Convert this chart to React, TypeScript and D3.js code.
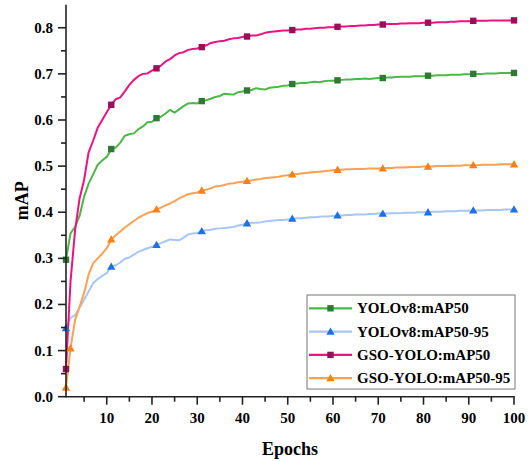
import React from 'react';
import * as d3 from 'd3';

// epochs 1..100
const epochs = d3.range(1, 101);

const yoloMap50 = [
  0.297, 0.354, 0.368, 0.392, 0.434, 0.462, 0.482, 0.503, 0.512, 0.520,
  0.537, 0.540, 0.551, 0.566, 0.569, 0.571, 0.580, 0.586, 0.595, 0.596,
  0.604, 0.607, 0.614, 0.622, 0.616, 0.623, 0.630, 0.636, 0.637, 0.636,
  0.641, 0.643, 0.646, 0.650, 0.652, 0.657, 0.656, 0.655, 0.660, 0.662,
  0.664, 0.665, 0.669, 0.667, 0.666, 0.670, 0.671, 0.672, 0.674, 0.675,
  0.678, 0.679, 0.680, 0.680, 0.682, 0.683, 0.682, 0.684, 0.685, 0.685,
  0.686, 0.687, 0.688, 0.688, 0.689, 0.689, 0.690, 0.689, 0.690, 0.691,
  0.691, 0.692, 0.692, 0.693, 0.694, 0.694, 0.694, 0.695, 0.695, 0.695,
  0.696, 0.696, 0.697, 0.697, 0.697, 0.698, 0.698, 0.698, 0.699, 0.699,
  0.700, 0.700, 0.700, 0.701, 0.701, 0.701, 0.702, 0.702, 0.702, 0.702,
];

const yoloMap5095 = [
  0.149, 0.171, 0.177, 0.193, 0.210, 0.228, 0.246, 0.255, 0.262, 0.268,
  0.282, 0.285, 0.291, 0.299, 0.302, 0.308, 0.314, 0.318, 0.322, 0.325,
  0.329, 0.333, 0.337, 0.341, 0.340, 0.339, 0.345, 0.352, 0.354, 0.355,
  0.359, 0.361, 0.362, 0.364, 0.365, 0.366, 0.367, 0.368, 0.371, 0.373,
  0.376, 0.377, 0.377, 0.378, 0.380, 0.381, 0.382, 0.383, 0.383, 0.384,
  0.386, 0.387, 0.387, 0.388, 0.389, 0.389, 0.390, 0.391, 0.391, 0.392,
  0.393, 0.393, 0.394, 0.394, 0.395, 0.395, 0.395, 0.396, 0.396, 0.397,
  0.397, 0.397, 0.398, 0.398, 0.398, 0.399, 0.399, 0.399, 0.400, 0.400,
  0.400, 0.401, 0.401, 0.401, 0.402, 0.402, 0.402, 0.403, 0.403, 0.403,
  0.404, 0.404, 0.404, 0.405, 0.405, 0.405, 0.405, 0.406, 0.406, 0.406,
];

const gsoMap50 = [
  0.060, 0.250, 0.360, 0.430, 0.470, 0.530, 0.555, 0.583, 0.600, 0.617,
  0.633, 0.645, 0.649, 0.662, 0.676, 0.687, 0.695, 0.700, 0.701, 0.707,
  0.712, 0.718, 0.727, 0.732, 0.740, 0.745, 0.747, 0.752, 0.754, 0.755,
  0.758, 0.762, 0.767, 0.769, 0.771, 0.772, 0.775, 0.777, 0.778, 0.780,
  0.781, 0.783, 0.783, 0.786, 0.789, 0.791, 0.792, 0.793, 0.794, 0.794,
  0.795, 0.796, 0.796, 0.798, 0.798, 0.799, 0.800, 0.800, 0.801, 0.801,
  0.802, 0.803, 0.803, 0.804, 0.804, 0.805, 0.805, 0.806, 0.806, 0.807,
  0.807, 0.808, 0.808, 0.808, 0.809, 0.809, 0.810, 0.810, 0.810, 0.811,
  0.811, 0.811, 0.812, 0.812, 0.812, 0.813, 0.813, 0.814, 0.814, 0.814,
  0.815, 0.815, 0.815, 0.815, 0.816, 0.816, 0.816, 0.816, 0.816, 0.816,
];

const gsoMap5095 = [
  0.020, 0.105, 0.166, 0.195, 0.225, 0.265, 0.289, 0.300, 0.310, 0.322,
  0.341, 0.350, 0.358, 0.367, 0.374, 0.381, 0.388, 0.393, 0.398, 0.401,
  0.406, 0.410, 0.415, 0.419, 0.424, 0.430, 0.435, 0.439, 0.441, 0.443,
  0.447, 0.449, 0.452, 0.456, 0.457, 0.459, 0.462, 0.463, 0.465, 0.466,
  0.468, 0.469, 0.471, 0.472, 0.474, 0.475, 0.476, 0.477, 0.479, 0.480,
  0.482, 0.483, 0.484, 0.485, 0.486, 0.487, 0.488, 0.489, 0.490, 0.491,
  0.492, 0.492, 0.493, 0.493, 0.494, 0.494, 0.494, 0.495, 0.495, 0.495,
  0.495, 0.496, 0.496, 0.497, 0.497, 0.497, 0.498, 0.498, 0.498, 0.499,
  0.499, 0.499, 0.500, 0.500, 0.500, 0.501, 0.501, 0.501, 0.502, 0.502,
  0.502, 0.502, 0.503, 0.503, 0.503, 0.503, 0.504, 0.504, 0.504, 0.504,
];

// epochs that carry a marker
const markerEpochs = [1, 11, 21, 31, 41, 51, 61, 71, 81, 91, 100];

const xTicks = [10, 20, 30, 40, 50, 60, 70, 80, 90, 100];
const yTicks = [0, 0.1, 0.2, 0.3, 0.4, 0.5, 0.6, 0.7, 0.8];

const series = [
  { name: 'YOLOv8:mAP50', values: yoloMap50, line: '#4cb847', mark: '#2e7a35', shape: 'square', extra: [] },
  { name: 'YOLOv8:mAP50-95', values: yoloMap5095, line: '#a8c6f4', mark: '#1f6fe6', shape: 'triangle', extra: [] },
  { name: 'GSO-YOLO:mAP50', values: gsoMap50, line: '#ec1280', mark: '#9b0f58', shape: 'square', extra: [] },
  { name: 'GSO-YOLO:mAP50-95', values: gsoMap5095, line: '#ffa052', mark: '#fc8019', shape: 'triangle', extra: [2] },
];

const FONT = '"Liberation Serif", "Times New Roman", serif';

const Marker = ({ shape, x, y, color }) => {
  if (shape === 'square') {
    return <rect x={x - 3.2} y={y - 3.2} width={6.4} height={6.4} fill={color} />;
  }
  const s = 4.2;
  return <path d={`M${x},${y - s}L${x + s},${y + s * 0.75}L${x - s},${y + s * 0.75}Z`} fill={color} />;
};

const App = () => {
  const width = 528;
  const height = 461;
  const margin = { top: 4.7, right: 14, bottom: 64.3, left: 66 };

  const x = d3.scaleLinear().domain([1, 100]).range([margin.left, width - margin.right]);
  const y = d3.scaleLinear().domain([0, 0.85]).range([height - margin.bottom, margin.top]);

  const line = d3.line().x((d) => x(d[0])).y((d) => y(d[1]));

  const x0 = margin.left;
  const y0 = height - margin.bottom;

  const xMinor = d3.range(5, 100, 10);
  const yMinor = d3.range(0.05, 0.85, 0.1);

  const legend = { x: 307, y: 295, w: 208, h: 94, row: 23.3 };

  return (
    <svg width={width} height={height} style={{ position: 'absolute', left: 0, top: 0 }} fontFamily={FONT}>
      <rect width={width} height={height} fill="#fff" />

      {/* series lines */}
      {series.map((s) => (
        <path
          key={s.name}
          d={line(epochs.map((e, i) => [e, s.values[i]]))}
          fill="none"
          stroke={s.line}
          strokeWidth={2}
          strokeLinejoin="round"
        />
      ))}

      {/* markers */}
      {series.map((s) =>
        [...markerEpochs, ...s.extra].map((e) => (
          <Marker key={s.name + e} shape={s.shape} x={x(e)} y={y(s.values[e - 1])} color={s.mark} />
        ))
      )}

      {/* axes */}
      <g stroke="#222" strokeWidth={1.6}>
        <line x1={x0} x2={x0} y1={y0 + 0.8} y2={margin.top} />
        <line x1={x0} x2={width - margin.right + 0.8} y1={y0} y2={y0} />
        {xTicks.map((t) => (
          <line key={'xt' + t} x1={x(t)} x2={x(t)} y1={y0} y2={y0 + 8} />
        ))}
        {xMinor.map((t) => (
          <line key={'xm' + t} x1={x(t)} x2={x(t)} y1={y0} y2={y0 + 5} />
        ))}
        {yTicks.map((t) => (
          <line key={'yt' + t} x1={x0 - 8} x2={x0} y1={y(t)} y2={y(t)} />
        ))}
        {yMinor.map((t) => (
          <line key={'ym' + t} x1={x0 - 5} x2={x0} y1={y(t)} y2={y(t)} />
        ))}
      </g>

      <g fontSize={15} fontWeight="bold" fill="#000">
        {xTicks.map((t) => (
          <text key={'xl' + t} x={x(t)} y={y0 + 26} textAnchor="middle">
            {t}
          </text>
        ))}
        {yTicks.map((t) => (
          <text key={'yl' + t} x={53} y={y(t) + 5} textAnchor="end">
            {d3.format('.1f')(t)}
          </text>
        ))}
      </g>

      <text x={(x0 + width - margin.right) / 2} y={455} textAnchor="middle" fontSize={18} fontWeight="bold">
        Epochs
      </text>
      <text
        transform={`translate(28,${(y0 + margin.top) / 2}) rotate(-90)`}
        textAnchor="middle"
        fontSize={18}
        fontWeight="bold"
      >
        mAP
      </text>

      {/* legend */}
      <rect x={legend.x} y={legend.y} width={legend.w} height={legend.h} fill="#fff" stroke="#777" strokeWidth={1} />
      {series.map((s, i) => {
        const cy = legend.y + 13.3 + i * legend.row;
        return (
          <g key={'lg' + s.name}>
            <line x1={legend.x + 2} x2={legend.x + 45} y1={cy} y2={cy} stroke={s.line} strokeWidth={2.2} />
            <Marker shape={s.shape} x={legend.x + 23.5} y={cy} color={s.mark} />
            <text x={legend.x + 50} y={cy + 5} fontSize={15} fontWeight="bold">
              {s.name}
            </text>
          </g>
        );
      })}
    </svg>
  );
};

export default App;
